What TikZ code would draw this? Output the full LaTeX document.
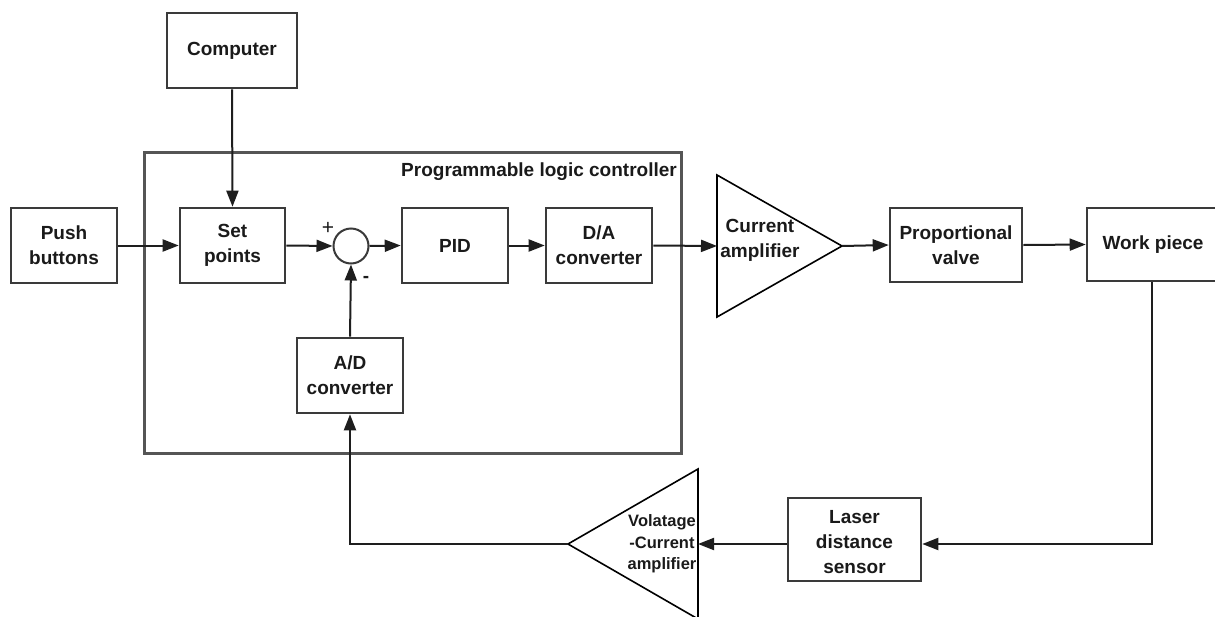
\documentclass[tikz,border=0pt]{standalone}
\usepackage{fontspec}
\setmainfont{Liberation Sans}
\usetikzlibrary{arrows.meta}
\definecolor{boxc}{HTML}{3A3A3A}
\definecolor{linec}{HTML}{1E1E1E}
\definecolor{plcc}{HTML}{555555}
\definecolor{txt}{HTML}{1A1A1A}
\begin{document}
\begin{tikzpicture}[x=1pt,y=-1pt,
  blk/.style={draw=boxc, line width=2.6pt, fill=white, inner sep=0pt, align=center,
    font=\fontsize{19}{25}\selectfont\bfseries, text=txt},
  conn/.style={draw=linec, line width=2pt, -{Triangle[length=16pt,width=12pt]}},
  tri/.style={draw=black, line width=1.6pt, fill=white},
  lbl/.style={inner sep=0pt, align=center, text=txt, font=\fontsize{19}{25}\selectfont\bfseries},
  smalllbl/.style={inner sep=0pt, align=center, text=txt, font=\fontsize{16.5}{21.7}\selectfont\bfseries}]
\clip (0,0) rectangle (1215,616);
\fill[white] (0,0) rectangle (1215,616);

% PLC enclosure
\draw[plcc, line width=3pt] (144,152) rectangle (681,453);
\node[lbl, anchor=east] (plclabel) at (677,172) {Programmable logic controller};

% blocks
\node[blk, minimum width=130pt, minimum height=75pt] (computer) at (232,50.5) {Computer};
\node[blk, minimum width=106pt, minimum height=75pt] (push) at (64,245.5) {Push\\buttons};
\node[blk, minimum width=105pt, minimum height=75pt] (set) at (232.5,245.5) {Set\\points};
\node[draw=boxc, line width=2pt, circle, minimum size=35pt, inner sep=0pt, fill=white] (sum) at (351,246) {};
\node[blk, minimum width=106pt, minimum height=75pt] (pid) at (455,245.5) {PID};
\node[blk, minimum width=106pt, minimum height=75pt] (da) at (599,245.5) {D/A\\converter};
\node[blk, minimum width=132pt, minimum height=74pt] (prop) at (956,245) {Proportional\\valve};
\node[blk, minimum width=138pt, minimum height=73pt] (work) at (1156,244.5) {};
\node[lbl] (worktext) at (1153,244.5) {Work piece};
\node[blk, minimum width=106pt, minimum height=75pt] (ad) at (350,375.5) {A/D\\converter};
\node[blk, minimum width=133pt, minimum height=83pt] (laser) at (854.5,539.5) {};
\node[lbl] (lasertext) at (854.5,542) {Laser\\distance\\sensor};

% signs at the summing junction
\node[inner sep=0pt, text=txt, font=\fontsize{21}{24}\selectfont] (plus) at (328,228) {+};
\node[inner sep=0pt, text=txt, font=\fontsize{19}{22}\selectfont\bfseries] (minus) at (366,279) {-};

% current amplifier
\coordinate (cain) at (717,246);
\coordinate (caout) at (842,246);
\draw[tri] (717,175) -- (717,317) -- (caout) -- cycle;
\node[lbl] (catext) at (760,240.5) {Current\\amplifier};

% voltage-current amplifier
\coordinate (vcin) at (698,544);
\coordinate (vcout) at (568,544);
\draw[tri] (698,469) -- (698,619) -- (vcout) -- cycle;
\node[smalllbl] (vctext) at (662,544) {Volatage\\-Current\\amplifier};

% connectors
\draw[conn] (computer.south) -- (set.north);
\draw[conn] (push.east) -- (set.west);
\draw[conn] (set.east) -- (sum.west);
\draw[conn] (sum.east) -- (pid.west);
\draw[conn] (pid.east) -- (da.west);
\draw[conn] (da.east) -- (cain);
\draw[conn] (caout) -- (prop.west);
\draw[conn] (prop.east) -- (work.west);
\coordinate (wpc) at (1152,544);
\draw[conn] (wpc |- work.south) -- (wpc) -- (wpc -| laser.east);
\draw[conn] (vcin -| laser.west) -- (vcin);
\draw[conn] (vcout) -| (ad.south);
\draw[conn] (ad.north) -- (sum.south);
\end{tikzpicture}
\end{document}
